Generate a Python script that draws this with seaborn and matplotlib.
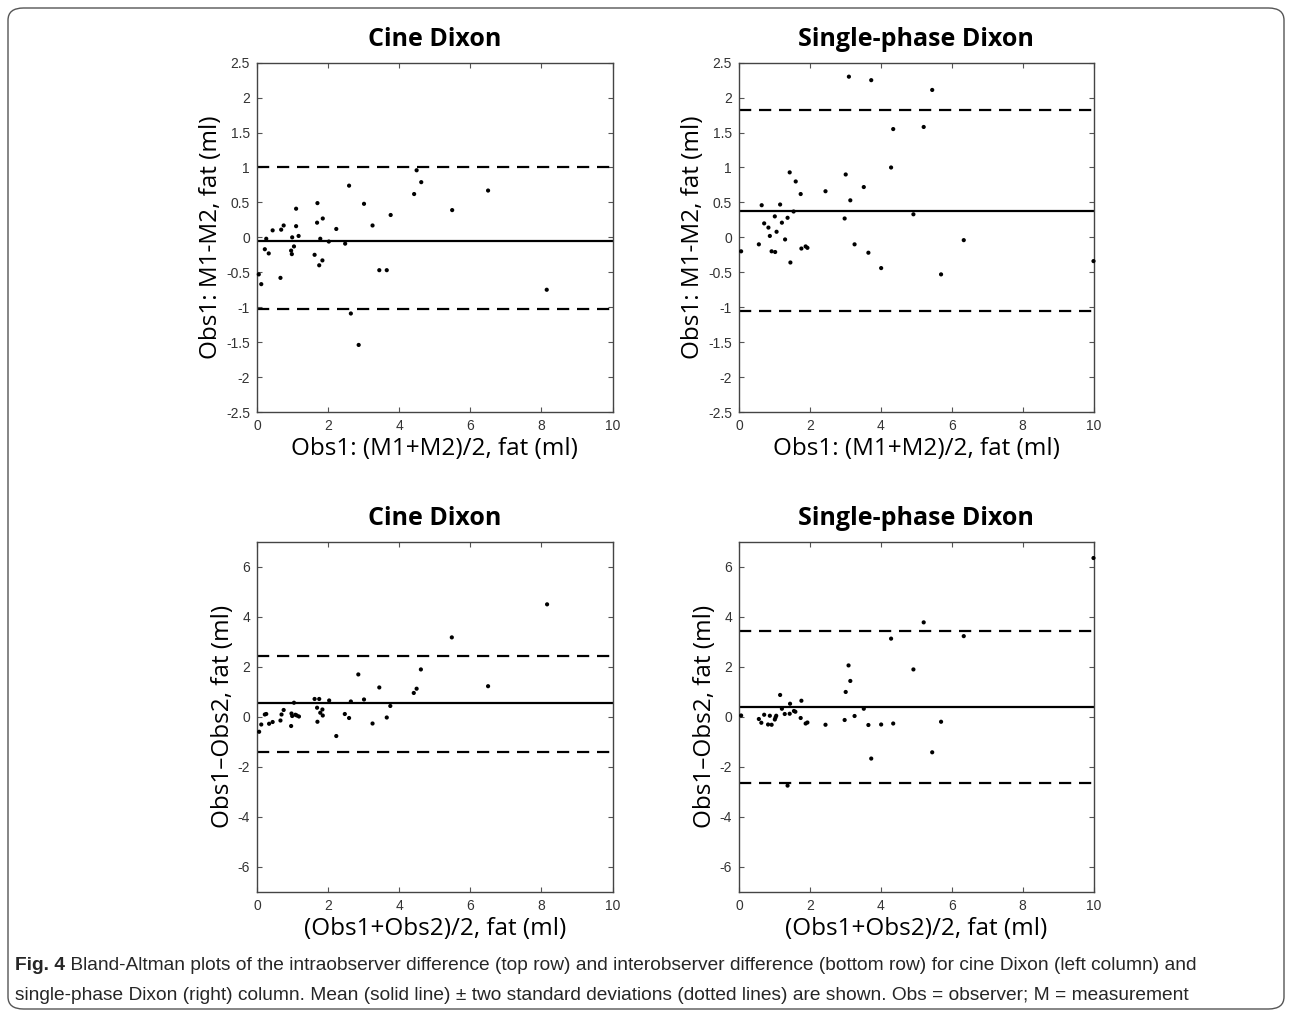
import numpy as np
import pandas as pd
import matplotlib
matplotlib.use("Agg")
import matplotlib.pyplot as plt
import seaborn as sns
from matplotlib.patches import FancyBboxPatch

# ---------------- data ----------------
# Panel A: intraobserver, cine Dixon
a_x = [0.05, 0.12, 0.22, 0.26, 0.33, 0.44, 0.66, 0.68, 0.75, 0.96, 0.98, 0.99, 1.04, 1.10,
       1.10, 1.17, 1.62, 1.69, 1.70, 1.75, 1.78, 1.84, 1.85, 2.02, 2.23, 2.48, 2.59, 2.64,
       2.86, 3.01, 3.25, 3.44, 3.65, 3.76, 4.42, 4.49, 4.62, 5.49, 6.50, 8.15]
a_y = [-0.53, -0.67, -0.17, -0.02, -0.23, 0.10, -0.58, 0.11, 0.17, -0.19, -0.24, 0.00, -0.13, 0.41,
       0.16, 0.02, -0.25, 0.21, 0.49, -0.40, -0.02, -0.33, 0.27, -0.06, 0.12, -0.09, 0.74, -1.09,
       -1.54, 0.48, 0.17, -0.47, -0.47, 0.32, 0.62, 0.96, 0.79, 0.39, 0.67, -0.75]
a_mean, a_lo, a_hi = -0.05, -1.03, 1.00

# Panel B: intraobserver, single-phase Dixon
b_x = [0.06, 0.56, 0.64, 0.71, 0.83, 0.87, 0.92, 1.02, 1.01, 1.06, 1.16, 1.21, 1.30, 1.37,
       1.43, 1.45, 1.54, 1.60, 1.74, 1.76, 1.88, 1.93, 2.44, 2.98, 3.01, 3.10, 3.14, 3.26,
       3.52, 3.65, 3.73, 4.01, 4.29, 4.35, 4.92, 5.21, 5.45, 5.70, 6.34, 10.0]
b_y = [-0.20, -0.10, 0.46, 0.20, 0.14, 0.02, -0.20, -0.21, 0.30, 0.08, 0.47, 0.21, -0.03, 0.28,
       0.93, -0.36, 0.37, 0.80, 0.62, -0.16, -0.13, -0.15, 0.66, 0.27, 0.90, 2.30, 0.53, -0.10,
       0.72, -0.22, 2.25, -0.44, 1.00, 1.55, 0.33, 1.58, 2.11, -0.53, -0.04, -0.34]
b_mean, b_lo, b_hi = 0.38, -1.05, 1.83

# Panel C: interobserver, cine Dixon
c_x = [0.06, 0.12, 0.22, 0.26, 0.34, 0.44, 0.66, 0.69, 0.75, 0.96, 0.97, 0.99, 1.04, 1.08,
       1.12, 1.18, 1.62, 1.69, 1.70, 1.75, 1.78, 1.84, 1.85, 2.03, 2.23, 2.47, 2.59, 2.64,
       2.85, 3.01, 3.25, 3.44, 3.65, 3.75, 4.41, 4.49, 4.61, 5.48, 6.50, 8.16]
c_y = [-0.60, -0.31, 0.09, 0.11, -0.28, -0.21, -0.15, 0.09, 0.27, -0.37, 0.13, 0.03, 0.56, 0.08,
       0.05, 0.01, 0.71, 0.36, -0.20, 0.71, 0.16, 0.29, 0.05, 0.65, -0.77, 0.11, -0.05, 0.61,
       1.69, 0.69, -0.27, 1.17, -0.03, 0.43, 0.95, 1.12, 1.89, 3.17, 1.22, 4.49]
c_mean, c_lo, c_hi = 0.56, -1.42, 2.43

# Panel D: interobserver, single-phase Dixon
d_x = [0.06, 0.56, 0.63, 0.71, 0.82, 0.87, 0.92, 1.01, 1.03, 1.05, 1.16, 1.21, 1.29, 1.37,
       1.44, 1.43, 1.55, 1.59, 1.74, 1.76, 1.88, 1.93, 2.44, 2.98, 3.01, 3.09, 3.14, 3.26,
       3.52, 3.65, 3.73, 4.01, 4.29, 4.35, 4.92, 5.21, 5.45, 5.70, 6.34, 10.0]
d_y = [0.05, -0.09, -0.24, 0.08, -0.31, 0.04, -0.32, -0.11, -0.03, 0.04, 0.87, 0.32, 0.11, -2.75,
       0.52, 0.12, 0.23, 0.20, -0.05, 0.64, -0.27, -0.23, -0.32, -0.13, 0.99, 2.05, 1.43, 0.03,
       0.32, -0.33, -1.67, -0.31, 3.12, -0.27, 1.89, 3.77, -1.42, -0.20, 3.22, 6.34]
d_mean, d_lo, d_hi = 0.39, -2.66, 3.43

titles = ["Cine Dixon", "Single-phase Dixon", "Cine Dixon", "Single-phase Dixon"]
xlabels = ["Obs1: (M1+M2)/2, fat (ml)", "Obs1: (M1+M2)/2, fat (ml)",
           "(Obs1+Obs2)/2, fat (ml)", "(Obs1+Obs2)/2, fat (ml)"]
ylabels = ["Obs1: M1-M2, fat (ml)", "Obs1: M1-M2, fat (ml)",
           "Obs1\u2013Obs2, fat (ml)", "Obs1\u2013Obs2, fat (ml)"]
top_yticks = [2.5, 2, 1.5, 1, 0.5, 0, -0.5, -1, -1.5, -2, -2.5]
top_yticklabels = ["2.5", "2", "1.5", "1", "0.5", "0", "-0.5", "-1", "-1.5", "-2", "-2.5"]
bot_yticks = [6, 4, 2, 0, -2, -4, -6]
bot_yticklabels = ["6", "4", "2", "0", "-2", "-4", "-6"]
xticks = [0, 2, 4, 6, 8, 10]
xticklabels = ["0", "2", "4", "6", "8", "10"]

caption_bold = "Fig. 4"
caption_l1 = (" Bland-Altman plots of the intraobserver difference (top row) and interobserver "
              "difference (bottom row) for cine Dixon (left column) and")
caption_l2 = ("single-phase Dixon (right) column. Mean (solid line) \u00b1 two standard deviations "
              "(dotted lines) are shown. Obs = observer; M = measurement")

# ---------------- figure ----------------
sns.set_theme(style="white")
W, H = 1292, 1017
fig = plt.figure(figsize=(W / 100, H / 100), dpi=100)
fig.patch.set_facecolor("white")

def ax_rect(l, r, t, b):
    return [l / W, 1 - b / H, (r - l) / W, (b - t) / H]

rects = [ax_rect(257, 612.5, 62.7, 412), ax_rect(739, 1093.5, 62.7, 412),
         ax_rect(257, 612.5, 541.5, 892), ax_rect(739, 1093.5, 541.5, 892)]

panels = [(a_x, a_y, a_mean, a_lo, a_hi), (b_x, b_y, b_mean, b_lo, b_hi),
          (c_x, c_y, c_mean, c_lo, c_hi), (d_x, d_y, d_mean, d_lo, d_hi)]

label_font = "Open Sans"
tick_font = "Liberation Sans"

for i, (rect, (px, py, m, lo, hi)) in enumerate(zip(rects, panels)):
    ax = fig.add_axes(rect)
    df = pd.DataFrame({"x": px, "y": py})
    sns.scatterplot(data=df, x="x", y="y", ax=ax, color="black", s=9,
                    edgecolor="none", zorder=3, clip_on=False)
    ax.axhline(m, color="black", lw=1.6, zorder=2)
    ax.axhline(lo, color="black", lw=1.6, ls=(0, (5.5, 3.5)), zorder=2)
    ax.axhline(hi, color="black", lw=1.6, ls=(0, (5.5, 3.5)), zorder=2)
    ax.set_xlim(0, 10)
    if i < 2:
        ax.set_ylim(-2.5, 2.5)
        ax.set_yticks(top_yticks)
        ax.set_yticklabels(top_yticklabels)
    else:
        ax.set_ylim(-7, 7)
        ax.set_yticks(bot_yticks)
        ax.set_yticklabels(bot_yticklabels)
    ax.set_xticks(xticks)
    ax.set_xticklabels(xticklabels)
    ax.tick_params(direction="in", length=3.5, width=0.8, color="#555555",
                   top=True, right=True, bottom=True, left=True,
                   labelsize=10, labelcolor="#333333", pad=5)
    for lab in ax.get_xticklabels() + ax.get_yticklabels():
        lab.set_fontfamily(tick_font)
    for sp in ax.spines.values():
        sp.set_color("#444444")
        sp.set_linewidth(1.0)
    ax.set_xlabel(xlabels[i], fontsize=17.5, family=label_font, color="black", labelpad=3)
    ax.set_ylabel(ylabels[i], fontsize=17.5, family=label_font, color="black", labelpad=2)
    ax.set_title(titles[i], fontsize=18, family=label_font, fontweight="bold",
                 color="black", pad=12)

# border
border = FancyBboxPatch((8 / W, 8 / H), (W - 16) / W, (H - 16) / H,
                        boxstyle="round,pad=0,rounding_size=0.012",
                        transform=fig.transFigure, fill=False,
                        edgecolor="#555555", linewidth=1.0)
fig.patches.append(border)

# caption
cap_font = ["Liberation Sans Narrow", "Liberation Sans", "DejaVu Sans"]
cap_size = 13.8
t1 = fig.text(15 / W, 1 - 966 / H, caption_bold, fontsize=cap_size, fontweight="bold",
              family=cap_font, va="center", ha="left")
fig.canvas.draw()
bb = t1.get_window_extent(renderer=fig.canvas.get_renderer())
fig.text(bb.x1 / W, 1 - 966 / H, caption_l1, fontsize=cap_size, family=cap_font,
         va="center", ha="left")
fig.text(15 / W, 1 - 996 / H, caption_l2, fontsize=cap_size, family=cap_font,
         va="center", ha="left")

fig.savefig("out.png", dpi=100, facecolor="white")
